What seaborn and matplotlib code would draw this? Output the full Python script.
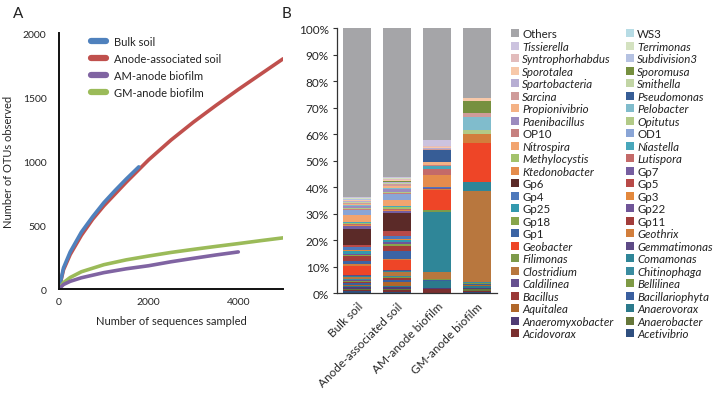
import numpy as np
import pandas as pd
import matplotlib
matplotlib.use("Agg")
import matplotlib.pyplot as plt
from matplotlib.patches import Patch
from matplotlib.lines import Line2D
import seaborn as sns

# ---- panel A: rarefaction curves ----
seq_bulk = [0, 100, 250, 500, 750, 1000, 1250, 1500, 1780]
otu_bulk = [0, 165, 290, 445, 565, 675, 770, 860, 955]
seq_anode = [0, 100, 250, 500, 750, 1000, 1500, 2000, 2500, 3000, 3500, 4000, 4500, 5000]
otu_anode = [0, 150, 270, 420, 545, 650, 835, 1010, 1165, 1305, 1435, 1560, 1680, 1800]
seq_am = [0, 100, 250, 500, 1000, 1500, 2000, 2500, 3000, 3500, 4000]
otu_am = [0, 35, 60, 88, 128, 158, 182, 213, 240, 266, 290]
seq_gm = [0, 100, 250, 500, 1000, 1500, 2000, 2500, 3000, 3500, 4000, 4500, 5000]
otu_gm = [0, 50, 90, 135, 190, 228, 258, 286, 310, 333, 355, 378, 400]

curve_names = ["Bulk soil", "Anode-associated soil", "AM-anode biofilm", "GM-anode biofilm"]
curve_colors = ["#4f81bd", "#c0504d", "#8064a2", "#9bbb59"]

# ---- panel B: relative abundance (%), stacked bottom to top ----
samples = ["Bulk soil", "Anode-associated soil", "AM-anode biofilm", "GM-anode biofilm"]
genera = ["Acetivibrio", "Acidovorax", "Anaerobacter", "Anaeromyxobacter", "Anaerovorax",
          "Aquitalea", "Bacillariophyta", "Bacillus", "Bellilinea", "Caldilinea",
          "Chitinophaga", "Clostridium", "Comamonas", "Filimonas", "Gemmatimonas",
          "Geobacter", "Geothrix", "Gp1", "Gp11", "Gp18", "Gp22", "Gp25", "Gp3", "Gp4",
          "Gp5", "Gp6", "Gp7", "Ktedonobacter", "Lutispora", "Methylocystis", "Niastella",
          "Nitrospira", "OD1", "OP10", "Opitutus", "Paenibacillus", "Pelobacter",
          "Propionivibrio", "Pseudomonas", "Sarcina", "Smithella", "Spartobacteria",
          "Sporomusa", "Sporotalea", "Subdivision3", "Syntrophorhabdus", "Terrimonas",
          "Tissierella", "WS3", "Others"]
bulk = [1.0, 0.3, 0.2, 0.9, 0.3, 0.5, 0.6, 0.5, 0.2, 0.5, 0.3, 0.9, 0.3, 0.2, 0.2,
        3.5, 0.7, 1.2, 1.8, 0.5, 0.4, 0.9, 0.4, 1.3, 0.8, 5.9, 1.0, 0.4, 0.3, 0.6, 0.4,
        2.5, 2.1, 0.4, 0.3, 0.6, 0.3, 0.4, 0.1, 0.3, 0.4, 0.4, 0.1, 0.3, 0.2, 0.2, 0.4,
        0.2, 0.3, 63.5]
anode = [0.5, 0.6, 0.6, 0.6, 0.4, 1.5, 0.7, 0.8, 0.3, 0.3, 0.3, 1.5, 0.3, 0.2, 0.3,
         3.7, 0.5, 2.7, 1.9, 1.0, 0.5, 1.0, 0.4, 1.2, 1.8, 6.6, 1.0, 0.4, 0.3, 0.6, 0.6,
         2.0, 2.3, 0.5, 0.5, 0.8, 0.4, 0.8, 0.2, 0.5, 0.6, 0.4, 0.1, 0.5, 0.2, 0.4, 0.3,
         0.1, 0.1, 56.2]
am = [0.3, 1.2, 0.2, 0.2, 2.6, 0.3, 0.2, 0.1, 0.2, 0.1, 0.2, 2.3, 22.7, 0.7, 0.1,
      7.6, 0.2, 0.1, 0.1, 0.1, 0.1, 0.2, 0.1, 0.1, 0.1, 0.1, 0.1, 4.5, 2.0, 0.2, 0.9,
      0.1, 0.1, 0.2, 0.1, 0.1, 0.1, 1.0, 4.5, 0.4, 0.1, 0.1, 0.1, 0.4, 0.1, 0.2, 0.1,
      2.2, 0.0, 42.2]
gm = [0.5, 0.5, 0.8, 0.3, 0.8, 0.3, 0.2, 0.2, 0.3, 0.1, 0.2, 34.5, 3.4, 0.0, 0.0,
      14.6, 3.3, 0.0, 0.0, 0.0, 0.0, 0.0, 0.0, 0.0, 0.0, 0.0, 0.0, 0.0, 0.1, 0.0, 0.0,
      0.0, 0.0, 0.0, 1.5, 0.0, 4.8, 0.0, 0.0, 1.5, 0.0, 0.0, 4.8, 0.9, 0.0, 0.0, 0.0,
      0.0, 0.0, 26.4]
genus_colors = ["#2f4f7f", "#7a2f2f", "#66773a", "#503c75", "#2b7a8c", "#b0672a",
                "#3a5f9f", "#9a3836", "#7e9a45", "#66508f", "#3a8ca0", "#b8773e",
                "#2f8698", "#7d9a4a", "#5d4a86", "#ee4527", "#d27e3c", "#3c64a4",
                "#a23d3b", "#87a54c", "#6f5598", "#3399ae", "#e3883c", "#4d78bb",
                "#b84a48", "#5b2a28", "#765ea0", "#e58c4c", "#c46a69", "#a3c26b",
                "#48a7bb", "#f2a46f", "#8aa5d6", "#c6807f", "#b2ca87", "#9c8bbf",
                "#80bccc", "#f4b285", "#375d96", "#cf9b9a", "#c2d5a5", "#b7aed3",
                "#76903f", "#f7c8a9", "#b5c2e2", "#e2bcbc", "#d4e2c0", "#ccc3df",
                "#b7dce5", "#a5a5a8"]
upright = {"Others", "WS3", "OP10", "OD1"}

sns.set_theme(style="white")
plt.rcParams["font.family"] = ["Lato", "DejaVu Sans"]
plt.rcParams["text.color"] = "#222222"

fig = plt.figure(figsize=(7.24, 4.06), dpi=100)
axA = fig.add_axes([0.0815, 0.2857, 0.3095, 0.630])
axB = fig.add_axes([0.4655, 0.275, 0.221, 0.653])

# ---- A ----
curves = pd.concat([
    pd.DataFrame({"seq": s, "otu": o, "sample": n})
    for s, o, n in zip([seq_bulk, seq_anode, seq_am, seq_gm],
                       [otu_bulk, otu_anode, otu_am, otu_gm], curve_names)
])
draw_order = ["Anode-associated soil", "Bulk soil", "GM-anode biofilm", "AM-anode biofilm"]
pal = dict(zip(curve_names, curve_colors))
for name in draw_order:
    sns.lineplot(data=curves[curves["sample"] == name], x="seq", y="otu", color=pal[name],
                 lw=2.6, ax=axA, sort=False, legend=False)
axA.set_xlim(0, 5000)
axA.set_ylim(0, 2000)
axA.set_xticks([0, 2000, 4000])
axA.set_yticks([0, 500, 1000, 1500, 2000])
axA.tick_params(axis="x", direction="in", length=3, width=1, labelsize=7.5, pad=6)
axA.tick_params(axis="y", direction="out", length=0, labelsize=7.5, pad=9)
axA.set_xlabel("Number of sequences sampled", fontsize=8, labelpad=6)
axA.set_ylabel("Number of OTUs observed", fontsize=8, labelpad=6)
for side in ["top", "right"]:
    axA.spines[side].set_visible(False)
for side in ["left", "bottom"]:
    axA.spines[side].set_color("#111111")
    axA.spines[side].set_linewidth(1.4)
handles = [Line2D([], [], color=c, lw=4.5) for c in curve_colors]
axA.legend(handles, curve_names, loc="upper left", bbox_to_anchor=(0.1, 1.03), frameon=False,
           fontsize=8, handlelength=1.3, handletextpad=0.7, labelspacing=0.55)

# ---- B ----
rows = []
for s, vals in zip(samples, [bulk, anode, am, gm]):
    for g, v in zip(genera, vals):
        rows.append({"sample": s, "genus": g, "pct": v})
comp = pd.DataFrame(rows)
comp["sample"] = pd.Categorical(comp["sample"], categories=samples)
gpal = dict(zip(genera, genus_colors))
sns.histplot(data=comp, x="sample", weights="pct", hue="genus", hue_order=genera[::-1],
             multiple="stack", discrete=True, shrink=0.72, palette=gpal, alpha=1,
             linewidth=0, edgecolor="none", legend=False, ax=axB)
axB.set_xlim(-0.5, 3.5)
axB.set_ylim(0, 100)
axB.set_yticks(np.arange(0, 101, 10))
axB.set_yticklabels([f"{v}%" for v in range(0, 101, 10)])
axB.set_xticks(range(4))
axB.set_xticklabels(samples, rotation=45, ha="right", rotation_mode="anchor")
axB.set_xticks(np.arange(-0.5, 4, 1), minor=True)
axB.tick_params(axis="x", which="major", length=0, labelsize=8.5, pad=5)
axB.tick_params(axis="x", which="minor", direction="out", length=4, width=0.8, color="#333333")
axB.tick_params(axis="y", direction="out", length=3, width=0.8, color="#333333", labelsize=8.5, pad=3, left=True)
axB.set_xlabel("")
axB.set_ylabel("")
for side in ["top", "right"]:
    axB.spines[side].set_visible(False)
for side in ["left", "bottom"]:
    axB.spines[side].set_color("#333333")
    axB.spines[side].set_linewidth(0.9)

# legend: row-major, top of stack first
order = genera[::-1]
col1 = order[0::2]
col2 = order[1::2]
leg_names = col1 + col2
leg_handles = [Patch(facecolor=gpal[g], edgecolor="none") for g in leg_names]
leg = fig.legend(leg_handles, leg_names, loc="upper left", bbox_to_anchor=(0.691, 0.953),
                 ncol=2, frameon=False, fontsize=8.3, handlelength=0.7, handleheight=0.7,
                 handletextpad=0.3, labelspacing=0.13, columnspacing=1.05)
for t in leg.get_texts():
    if t.get_text() not in upright and not t.get_text().startswith("Gp"):
        t.set_style("italic")

fig.text(0.018, 0.955, "A", fontsize=11)
fig.text(0.389, 0.955, "B", fontsize=11)

fig.savefig("out.png", dpi=100)
